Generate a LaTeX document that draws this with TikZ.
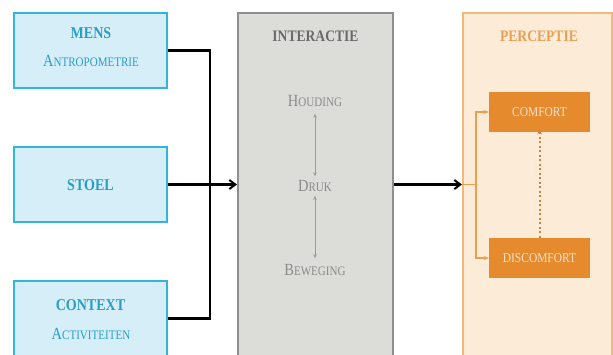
\documentclass[tikz,border=0pt]{standalone}
\usepackage{fontspec}
\setmainfont{Liberation Serif}[FakeStretch=0.85]
\usetikzlibrary{arrows.meta}
\definecolor{cyanfill}{HTML}{D5EEF8}
\definecolor{cyanline}{HTML}{35B4DA}
\definecolor{cyantext}{HTML}{2B9CC8}
\definecolor{grayfill}{HTML}{DCDCD8}
\definecolor{grayline}{HTML}{8E8E8E}
\definecolor{graytitle}{HTML}{6A6A6A}
\definecolor{graytext}{HTML}{8A8A8A}
\definecolor{grayarrow}{HTML}{9A9A9A}
\definecolor{orfill}{HTML}{FCEBD7}
\definecolor{orline}{HTML}{F2B878}
\definecolor{ortitle}{HTML}{E9A055}
\definecolor{orbox}{HTML}{E68A2E}
\definecolor{orboxtext}{HTML}{FBE0C6}
\definecolor{orbranch}{HTML}{E9A050}
\definecolor{ordot}{HTML}{C98340}
\newcommand\mysc[2]{{\fontsize{17}{19}\selectfont #1}{\fontsize{13}{15}\selectfont #2}}
\begin{document}
\begin{tikzpicture}[x=1pt,y=-1pt,
  inbox/.style={draw=cyanline, fill=cyanfill, line width=2pt, minimum width=153pt, minimum height=75pt, inner sep=0pt},
  intitle/.style={text=cyantext, font=\bfseries\fontsize{16.5}{18}\selectfont, inner sep=0pt},
  insub/.style={text=cyantext, inner sep=0pt},
  contbox/.style={line width=2pt, inner sep=0pt, minimum height=400pt},
  ctitle/.style={font=\bfseries\fontsize{16}{18}\selectfont, inner sep=0pt},
  item/.style={text=graytext, inner sep=0pt},
  orbx/.style={fill=orbox, text=orboxtext, minimum width=101pt, minimum height=40pt, inner sep=0pt, font=\fontsize{13.5}{15}\selectfont},
  blk/.style={line width=2.2pt, black},
  blkarrow/.style={blk, -{Straight Barb[length=6pt,width=9pt,line width=2pt]}},
  grayarr/.style={draw=grayarrow, line width=0.8pt, {Stealth[length=4pt,width=3.5pt]}-{Stealth[length=4pt,width=3.5pt]}},
  orarr/.style={draw=orbranch, line width=1.4pt},
]
\useasboundingbox (0,0) rectangle (613,354);
\clip (0,0) rectangle (613,354);

% left boxes
\node[inbox] (mens) at (90.5,50.5) {};
\node[inbox] (stoel) at (90.5,184.5) {};
\node[inbox] (context) at (90.5,318.5) {};
\node[intitle] (menst) at (91,33) {MENS};
\node[insub] (menss) at (91,61) {\mysc{A}{NTROPOMETRIE}};
\node[intitle] (stoelt) at (90.5,185) {STOEL};
\node[intitle] (contextt) at (90.5,305) {CONTEXT};
\node[insub] (contexts) at (91,334) {\mysc{A}{CTIVITEITEN}};

% interactie
\node[contbox, draw=grayline, fill=grayfill, minimum width=155pt] (inter) at (315.5,213) {};
\node[ctitle, text=graytitle] (intert) at (315.5,36) {INTERACTIE};
\node[item] (houding) at (315,101) {\mysc{H}{OUDING}};
\node[item] (druk) at (315,186) {\mysc{D}{RUK}};
\node[item] (beweging) at (315,270) {\mysc{B}{EWEGING}};
\draw[grayarr] ([yshift=-7pt]houding.south) -- ([yshift=4pt]druk.north);
\draw[grayarr] ([yshift=-4pt]druk.south) -- ([yshift=6pt]beweging.north);

% perceptie
\node[contbox, draw=orline, fill=orfill, minimum width=149pt] (percep) at (537.5,213) {};
\node[ctitle, text=ortitle] (percept) at (539,36) {PERCEPTIE};
\node[orbx] (comfort) at (539.5,112) {COMFORT};
\node[orbx] (discomfort) at (539.5,258) {DISCOMFORT};

% black connectors
\coordinate (join) at (210,184.5);
\draw[blk] (mens.east) -| (join);
\draw[blk] (context.east) -| (join);
\draw[blkarrow] (stoel.east) -- (stoel.east -| inter.west);
\draw[blkarrow] (stoel.east -| inter.east) -- (stoel.east -| percep.west);

% orange branch
\coordinate (br) at (476,184.5);
\draw[orarr] (stoel.east -| percep.west) -- (br);
\draw[orarr, -{Stealth[length=5pt,width=4pt]}] (br) |- (comfort.west);
\draw[orarr, -{Stealth[length=5pt,width=4pt]}] (br) |- (discomfort.west);
\draw[draw=ordot, line width=2pt, dash pattern=on 2pt off 2.5pt, -{Stealth[length=5pt,width=4.5pt]}] (discomfort.north) -- ([yshift=3pt]comfort.south);
\end{tikzpicture}
\end{document}
